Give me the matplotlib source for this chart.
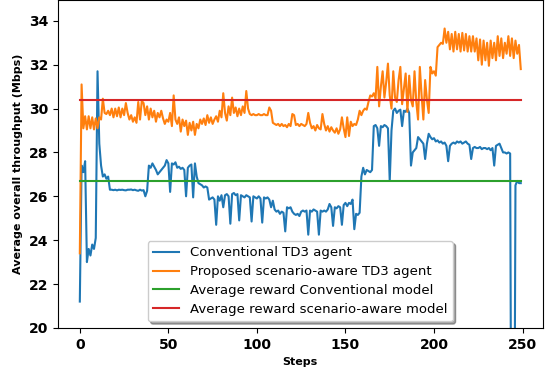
import numpy as np
import matplotlib
matplotlib.use('Agg')
import matplotlib.pyplot as plt

# Datos (250 pasos)
conventional_td3 = [
    21.2, 27.4, 27.1, 27.6, 23.0, 23.6, 23.3, 23.8, 23.6, 24.1,
    31.7, 28.4, 27.4, 26.9, 27.0, 26.8, 26.9, 26.3, 26.3, 26.28,
    26.3, 26.27, 26.3, 26.29, 26.3, 26.28, 26.27, 26.3, 26.3, 26.31,
    26.28, 26.3, 26.27, 26.25, 26.3, 26.26, 26.28, 26.0, 26.25, 27.4,
    27.3, 27.5, 27.35, 27.2, 27.0, 27.1, 27.2, 27.3, 27.4, 27.65,
    27.5, 26.2, 27.5, 27.45, 27.55, 27.3, 27.35, 27.25, 27.3, 27.2,
    26.0, 27.3, 27.4, 27.45, 25.95, 27.5, 26.9, 26.6, 26.55, 26.5,
    26.4, 26.45, 26.4, 25.85, 25.9, 25.95, 25.85, 24.7, 26.0, 25.8,
    26.05, 25.5, 26.05, 26.1, 26.0, 24.75, 26.1, 26.15, 26.05, 26.1,
    24.9, 26.05, 26.0, 25.95, 26.05, 26.0, 25.95, 24.85, 26.0, 25.95,
    25.9, 26.0, 25.9, 24.8, 25.95, 25.9, 25.95, 25.85, 25.5, 25.8,
    25.4, 25.3, 25.35, 25.2, 25.3, 25.25, 24.4, 25.5, 25.45, 25.5,
    25.3, 25.2, 25.15, 25.2, 25.1, 25.3, 25.35, 25.3, 25.35, 24.25,
    25.35, 25.3, 25.4, 25.35, 25.3, 24.25, 25.35, 25.3, 25.35, 25.3,
    25.4, 25.65, 25.5, 24.65, 25.5, 25.45, 25.55, 25.5, 24.7, 25.6,
    25.7, 25.55, 25.7, 25.65, 25.85, 24.5, 25.2, 25.15, 25.25, 26.9,
    27.3, 27.0, 27.2, 27.15, 27.1, 27.2, 29.2, 29.25, 29.1, 28.3,
    29.2, 29.15, 29.25, 29.2, 29.1, 26.7, 29.0, 29.9, 30.0, 29.8,
    29.9, 29.95, 29.2, 29.9, 29.85, 30.0, 29.8, 27.4, 28.0, 28.1,
    28.2, 28.7, 28.6, 28.5, 28.4, 27.7, 28.4, 28.85, 28.7, 28.6,
    28.65, 28.5, 28.55, 28.45, 28.5, 28.4, 28.45, 28.3, 27.6, 28.3,
    28.4, 28.45, 28.4, 28.5, 28.45, 28.5, 28.4, 28.45, 28.5, 28.4,
    28.35, 27.7, 28.2, 28.25, 28.2, 28.2, 28.25, 28.15, 28.2, 28.2,
    28.15, 28.2, 28.1, 28.2, 27.4, 28.3, 28.35, 28.4, 28.2, 28.0,
    28.0, 27.95, 28.0, 27.95, 5.0, 5.0, 26.5, 26.7, 26.6, 26.6,
]

proposed_td3 = [
    23.4, 31.1, 29.1, 29.65, 29.05, 29.65, 29.1, 29.6, 29.05, 29.55,
    29.1, 29.6, 29.5, 30.45, 29.8, 29.75, 29.9, 29.7, 30.0, 29.6,
    30.0, 29.65, 30.05, 29.6, 30.0, 29.7, 30.25, 29.8, 29.5, 29.7,
    29.4, 29.6, 29.35, 30.3, 29.5, 30.35, 30.25, 29.7, 30.1, 29.5,
    30.0, 29.6, 29.9, 29.4, 29.8, 29.6, 29.9, 29.55, 29.3, 29.5,
    29.4, 29.8, 29.2, 30.6, 29.5, 29.3, 29.6, 28.95, 29.5, 29.2,
    29.45, 28.8, 29.35, 29.0, 29.4, 28.8, 29.3, 29.1, 29.5, 29.3,
    29.55, 29.25, 29.7, 29.35, 29.6, 29.3, 29.5, 29.65, 29.4, 29.9,
    29.6, 30.7, 29.8, 29.45, 30.1, 29.7, 30.5, 29.8, 30.05, 29.65,
    30.0, 29.7, 30.1, 29.8, 30.8, 30.0, 29.75, 29.7, 29.75, 29.7,
    29.7, 29.75, 29.7, 29.7, 29.75, 29.7, 29.7, 30.05, 29.9, 29.35,
    29.3, 29.25, 29.3, 29.2, 29.3, 29.2, 29.25, 29.15, 29.3, 29.2,
    29.75, 29.7, 29.25, 29.3, 29.2, 29.3, 29.25, 29.2, 29.3, 29.8,
    29.35, 29.1, 29.2, 29.0, 29.25, 29.1, 29.05, 29.75, 29.3, 29.0,
    29.2, 28.95, 29.15, 29.0, 28.9, 29.1, 28.85, 29.05, 29.6, 29.1,
    28.7, 29.6, 28.75, 29.4, 29.2, 29.3, 29.25, 29.5, 29.9, 29.7,
    29.9, 30.0, 29.95, 30.3, 30.6, 30.55, 30.7, 30.45, 31.9, 30.1,
    31.0, 31.7, 30.5, 31.2, 32.05, 30.6, 30.0, 31.7, 30.5, 30.3,
    31.3, 31.9, 30.2, 30.9, 31.6, 29.85, 31.5, 30.4, 30.1, 31.7,
    30.3, 29.5, 31.9, 30.6, 29.5, 31.3, 30.4, 29.8, 31.9, 31.6,
    31.7, 31.5, 32.8, 32.9, 33.0, 32.95, 33.65, 33.0, 33.5, 32.7,
    33.4, 32.6, 33.5, 32.7, 33.4, 32.6, 33.45, 32.65, 33.4, 32.6,
    33.3, 32.6, 33.3, 32.6, 33.2, 32.2, 33.15, 32.0, 33.1, 32.2,
    33.0, 31.95, 33.1, 32.3, 33.0, 32.2, 33.3, 32.4, 33.2, 32.3,
    33.0, 32.5, 33.3, 32.4, 33.2, 32.3, 33.1, 32.5, 32.9, 31.8,
]

avg_conventional = 26.7
avg_proposed = 30.4

steps = np.arange(len(conventional_td3))

fig = plt.figure(figsize=(5.45, 3.68), dpi=100)
ax = fig.add_axes([0.106, 0.109, 0.890, 0.891])

ax.plot(steps, conventional_td3, color='C0', label='Conventional TD3 agent')
ax.plot(steps, proposed_td3, color='C1', label='Proposed scenario-aware TD3 agent')
ax.plot(steps, [avg_conventional] * len(steps), color='C2',
        label='Average reward Conventional model')
ax.plot(steps, [avg_proposed] * len(steps), color='C3',
        label='Average reward scenario-aware model')

ax.set_ylim(20, 34.95)
ax.set_yticks([20, 22, 24, 26, 28, 30, 32, 34])
ax.set_xticks([0, 50, 100, 150, 200, 250])

for lbl in ax.get_xticklabels() + ax.get_yticklabels():
    lbl.set_fontweight('bold')
    lbl.set_fontsize(10)

ax.set_xlabel('Steps', fontsize=8, fontweight='bold')
ax.set_ylabel('Average overall throughput (Mbps)', fontsize=8, fontweight='bold')

ax.legend(loc='lower center', shadow=True, fontsize=9.5, labelspacing=0.45)

plt.savefig('out.png', dpi=100)
